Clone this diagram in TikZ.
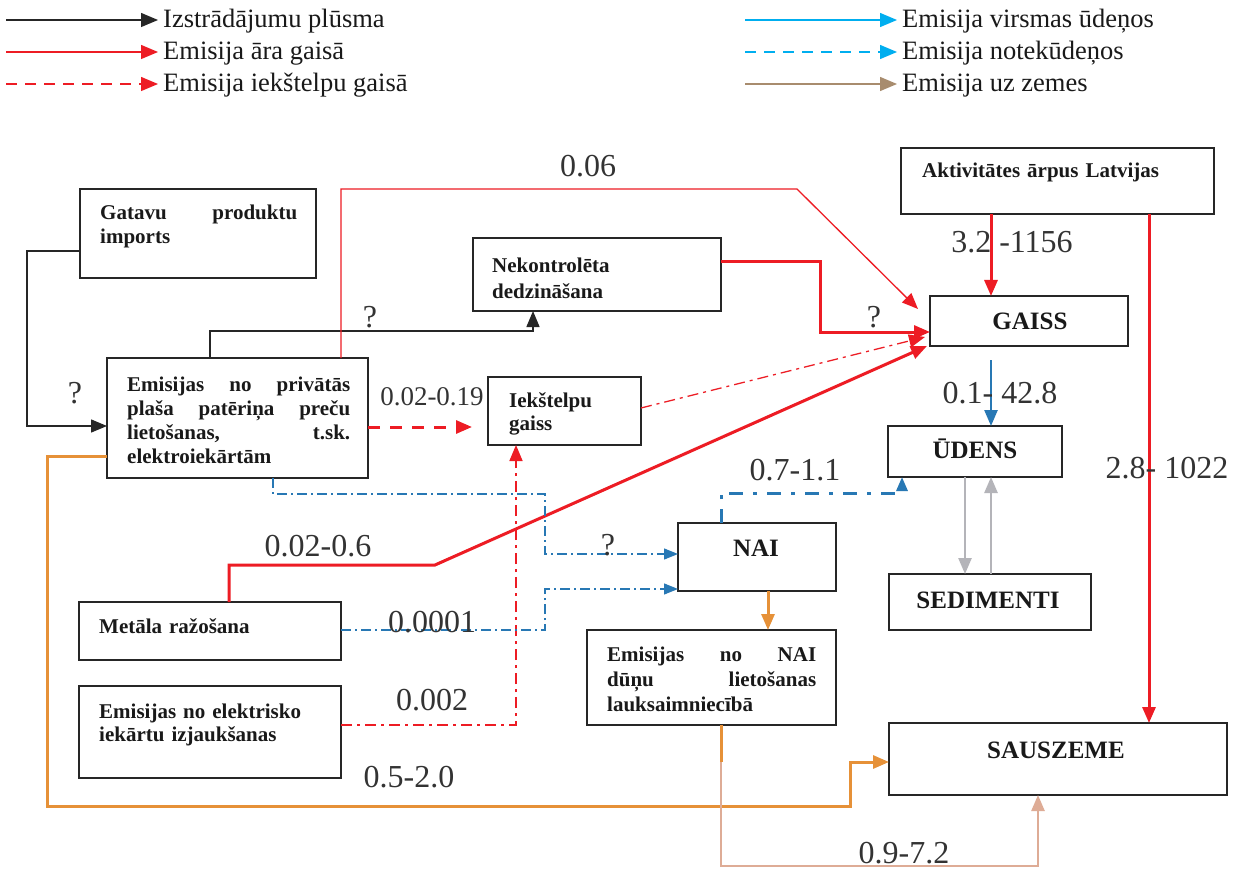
\documentclass[tikz,border=0pt]{standalone}
\usepackage{fontspec}
\setmainfont{Liberation Serif}
\usetikzlibrary{arrows.meta}
\definecolor{cred}{RGB}{237,28,36}
\definecolor{cblue}{RGB}{40,120,180}
\definecolor{ccyan}{RGB}{0,174,239}
\definecolor{corange}{RGB}{230,145,56}
\definecolor{ctan}{RGB}{168,140,110}
\definecolor{cland}{RGB}{222,172,150}
\definecolor{cgray}{RGB}{180,180,185}
\begin{document}
\begin{tikzpicture}[x=1pt,y=-1pt,
  box/.style={draw=black!85, line width=1.6pt, inner sep=0pt, outer sep=0pt, anchor=north west},
  btxt/.style={font=\bfseries\fontsize{21}{24}\selectfont, inner sep=0pt, anchor=north west, align=left, text=black!90},
  head/.style={font=\bfseries\fontsize{25}{28}\selectfont, inner sep=0pt, anchor=base, text=black!90},
  num/.style={font=\fontsize{32}{36}\selectfont, inner sep=0pt, text=black!80},
  leg/.style={font=\fontsize{26.5}{30}\selectfont, inner sep=0pt, anchor=base west, text=black!90},
  arr/.style={-{Triangle[length=16pt,width=13pt]}},
  sarr/.style={-{Triangle[length=14pt,width=11pt]}},
  larr/.style={-{Triangle[length=17pt,width=14pt]}},
  blk/.style={arr, draw=black!85, line width=1.5pt},
  redthin/.style={arr, draw=cred, line width=1.3pt},
  redthick/.style={arr, draw=cred, line width=3pt},
  reddash/.style={arr, draw=cred, line width=3pt, dash pattern=on 12pt off 10pt},
  reddd/.style={arr, draw=cred, line width=1.6pt, dash pattern=on 11pt off 5pt on 3pt off 5pt},
  bluedd/.style={sarr, draw=cblue, line width=1.2pt, dash pattern=on 10pt off 4pt on 2pt off 4pt},
  bluethick/.style={sarr, draw=cblue, line width=3pt, dash pattern=on 14pt off 10pt on 4pt off 10pt},
  bluesolid/.style={arr, draw=cblue, line width=2.5pt},
  orng/.style={draw=corange, line width=3pt, line join=miter},
  grayarr/.style={arr, draw=cgray, line width=2.5pt},
  land/.style={draw=cland, line width=2.5pt, line join=miter}
]
\useasboundingbox (0,0) rectangle (1235,869);
\fill[white] (0,0) rectangle (1235,869);

% ---------------- legend ----------------
\coordinate (la1) at (6,20);   \coordinate (lb1) at (158,20);
\coordinate (la2) at (6,52);   \coordinate (lb2) at (158,52);
\coordinate (la3) at (6,84);   \coordinate (lb3) at (158,84);
\coordinate (ra1) at (745,20); \coordinate (rb1) at (897,20);
\coordinate (ra2) at (745,52); \coordinate (rb2) at (897,52);
\coordinate (ra3) at (745,84); \coordinate (rb3) at (897,84);
\draw[larr, draw=black!85, line width=1.3pt] (la1) -- (lb1);
\draw[larr, draw=cred, line width=1.3pt] (la2) -- (lb2);
\draw[larr, draw=cred, line width=1.3pt, dash pattern=on 11pt off 8pt] (la3) -- (lb3);
\draw[larr, draw=ccyan, line width=1.3pt] (ra1) -- (rb1);
\draw[larr, draw=ccyan, line width=1.3pt, dash pattern=on 11pt off 8pt] (ra2) -- (rb2);
\draw[larr, draw=ctan, line width=1.3pt] (ra3) -- (rb3);
\node[leg] (lt1) at (163,28) {Izstrādājumu plūsma};
\node[leg] (lt2) at (163,60) {Emisija āra gaisā};
\node[leg] (lt3) at (163,92) {Emisija iekštelpu gaisā};
\node[leg] (rt1) at (902,28) {Emisija virsmas ūdeņos};
\node[leg] (rt2) at (902,60) {Emisija notekūdeņos};
\node[leg] (rt3) at (902,92) {Emisija uz zemes};

% ---------------- boxes ----------------
\node[box, minimum width=236pt, minimum height=89pt]  (gat) at (80,189) {};
\node[box, minimum width=261pt, minimum height=120pt] (emi) at (107,358) {};
\node[box, minimum width=248pt, minimum height=73pt]  (nek) at (473,238) {};
\node[box, minimum width=153pt, minimum height=68pt]  (iek) at (488,377) {};
\node[box, minimum width=313pt, minimum height=66pt]  (akt) at (901,148) {};
\node[box, minimum width=198pt, minimum height=50pt]  (gai) at (930,296) {};
\node[box, minimum width=174pt, minimum height=51pt]  (ude) at (888,426) {};
\node[box, minimum width=158pt, minimum height=68pt]  (nai) at (678,523) {};
\node[box, minimum width=202pt, minimum height=56pt]  (sed) at (889,574) {};
\node[box, minimum width=262pt, minimum height=58pt]  (met) at (79,602) {};
\node[box, minimum width=249pt, minimum height=95pt]  (ena) at (587,630) {};
\node[box, minimum width=262pt, minimum height=92pt]  (ele) at (79,686) {};
\node[box, minimum width=338pt, minimum height=72pt]  (sau) at (889,723) {};

% ---------------- box texts ----------------
\node[btxt, text width=197pt] (gatT) at (100,203) {\strut Gatavu\hfill produktu\\ imports};
\node[btxt, text width=223pt] (emiT) at (127,374) {\strut Emisijas\hfill no\hfill privātās\\ plaša\hfill patēriņa\hfill preču\\ lietošanas,\hfill t.sk.\\ elektroiekārtām};
\node[btxt, text width=200pt, font=\bfseries\fontsize{21}{26}\selectfont] (nekT) at (492,254) {\strut Nekontrolēta\\ dedzināšana};
\node[btxt, text width=120pt, font=\bfseries\fontsize{21}{23}\selectfont] (iekT) at (509,391) {\strut Iekštelpu\\ gaiss};
\node[btxt, text width=280pt] (aktT) at (922,161) {\strut Aktivitātes ārpus Latvijas};
\node[btxt, text width=230pt] (metT) at (99,616) {\strut Metāla ražošana};
\node[btxt, text width=209pt, font=\bfseries\fontsize{21}{25}\selectfont] (enaT) at (607,644) {\strut Emisijas\hfill no\hfill NAI\\ dūņu\hfill lietošanas\\ lauksaimniecībā};
\node[btxt, text width=230pt, font=\bfseries\fontsize{21}{23}\selectfont] (eleT) at (99,702) {\strut Emisijas no elektrisko\\ iekārtu izjaukšanas};
\node[head] (gaiT) at (1030,330) {GAISS};
\node[head] (udeT) at (975,458) {ŪDENS};
\node[head] (naiT) at (756,556) {NAI};
\node[head] (sedT) at (988,608) {SEDIMENTI};
\node[head] (sauT) at (1056,758) {SAUSZEME};

% ---------------- helper coordinates ----------------
\coordinate (c5end) at (472,427);
\coordinate (c13s) at (991,360);
\coordinate (c18m) at (721,762);

% ---------------- connectors ----------------
% product flows (black)
\draw[blk] (gat.west |- 0,251) -- (27,251) -- (27,426) -- (emi.west |- 0,426);
\draw[blk] (emi.north -| 210,0) -- (210,331) -- (533,331) -- (nek.south -| 533,0);

% outdoor air (red)
\draw[redthin] (emi.north -| 341,0) -- (341,189) -- (797,189) -- ([shift={(-12,13)}]gai.north west);
\draw[redthick, line join=miter] (nek.east |- 0,262) -- (820,262) -- (820,332) -- (gai.west |- 0,332);
\draw[reddd, line width=1.3pt] (iek.east |- 0,408) -- ([shift={(-5,-9)}]gai.south west);
\draw[redthick, line join=miter] (met.north -| 229,0) -- (229,565) -- (435,565) -- ([shift={(-3,0)}]gai.south west);
\draw[redthick] (akt.south -| 991,0) -- (gai.north -| 991,0);
\draw[redthick] (akt.south -| 1149,0) -- (sau.north -| 1149,0);

% indoor air (red dashed / dash-dot)
\draw[reddash] (emi.east |- 0,427) -- (c5end);
\draw[reddd] (ele.east |- 0,725) -- (516,725) -- (iek.south -| 516,0);

% water (blue)
\draw[bluedd] (emi.south -| 273,0) -- (273,494) -- (545,494) -- (545,554) -- (nai.west |- 0,554);
\draw[bluedd] (met.east |- 0,630) -- (545,630) -- (545,589) -- (nai.west |- 0,589);
\draw[bluethick] (nai.north -| 721,0) -- (721,493) -- (902,493) -- (ude.south -| 902,0);
\draw[bluesolid] (c13s) -- (ude.north -| 991,0);

% sediments (gray)
\draw[grayarr] (ude.south -| 965,0) -- (sed.north -| 965,0);
\draw[grayarr] (sed.north -| 991,0) -- (ude.south -| 991,0);

% land (orange / tan)
\draw[orng, arr] (nai.south -| 768,0) -- (ena.north -| 768,0);
\draw[orng, arr] (emi.west |- 0,456) -- (47,456) -- (47,806) -- (850,806) -- (850,762) -- (sau.west |- 0,762);
\draw[orng] (ena.south -| 721,0) -- (c18m);
\draw[land, arr] (c18m) -- (721,866) -- (1038,866) -- (sau.south -| 1038,0);

% ---------------- labels ----------------
\node[num] (q1) at (75,393) {?};
\node[num] (q2) at (370,317) {?};
\node[num] (q3) at (874,317) {?};
\node[num] (q4) at (608,545) {?};
\node[num] (n006) at (588,166) {0.06};
\node[num, font=\fontsize{27}{30}\selectfont] (n019) at (432,397) {0.02-0.19};
\node[num] (n06) at (318,546) {0.02-0.6};
\node[num] (n0001) at (432,622) {0.0001};
\node[num] (n002) at (432,700) {0.002};
\node[num] (n20) at (409,777) {0.5-2.0};
\node[num] (n11) at (795,470) {0.7-1.1};
\node[num] (n72) at (904,853) {0.9-7.2};
\node[num] (n428) at (1000,393) {0.1- 42.8};
\node[num] (n1156) at (1012,242) {3.2 -1156};
\node[num] (n1022) at (1167,468) {2.8- 1022};
\end{tikzpicture}
\end{document}
